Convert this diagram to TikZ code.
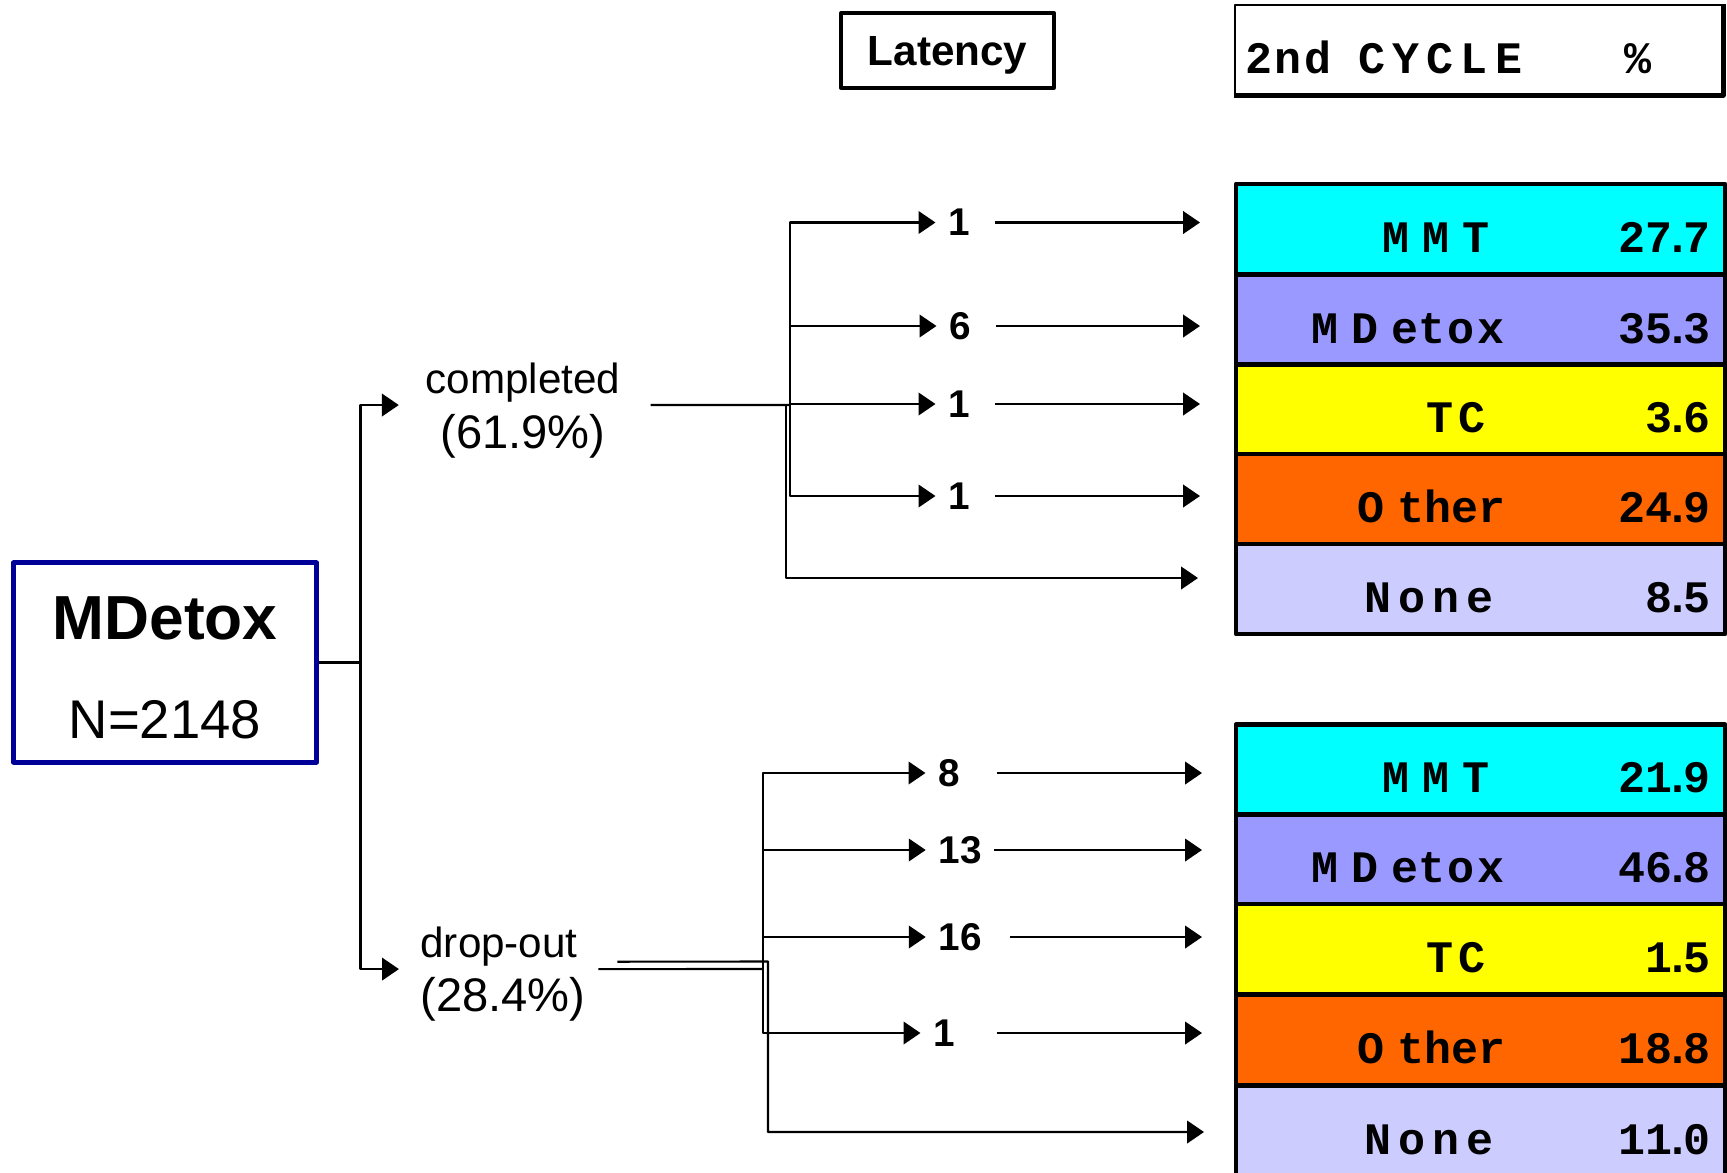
\documentclass[tikz,border=0pt]{standalone}
\usepackage{fontspec}
\setmainfont{Liberation Sans}
\newfontfamily\tabfont{Liberation Mono}
\usetikzlibrary{arrows.meta,calc}
\definecolor{navybox}{RGB}{0,0,153}
\definecolor{mmtcol}{RGB}{0,255,255}
\definecolor{mdxcol}{RGB}{153,153,255}
\definecolor{tccol}{RGB}{255,255,0}
\definecolor{othcol}{RGB}{255,102,0}
\definecolor{nonecol}{RGB}{204,204,255}
\newcommand{\trk}[1]{\addfontfeature{LetterSpace=#1}}
\newcommand{\numdot}{\kern-2.3pt.\kern-2.3pt}
\tikzset{
  rootbox/.style={draw=navybox,line width=1.4pt,minimum width=3.03cm,minimum height=1.99cm},
  tagbox/.style={draw,line width=0.9pt,minimum width=2.13cm,minimum height=0.75cm,text depth=0pt,font=\bfseries\fontsize{12}{14}\selectfont},
  hdrbox/.style={draw,line width=0.7pt,minimum width=4.87cm,minimum height=0.89cm},
  rowbox/.style={draw,line width=1.2pt,minimum width=4.89cm,minimum height=0.9cm},
  rowlab/.style={inner sep=0pt,anchor=base west,font=\tabfont\bfseries\fontsize{12.8}{14}\selectfont},
  rowval/.style={inner sep=0pt,anchor=base east,font=\tabfont\bfseries\fontsize{12.8}{14}\selectfont},
  armlab/.style={font=\fontsize{12}{15.6}\selectfont},
  numlab/.style={font=\bfseries\fontsize{11}{13}\selectfont},
}
\begin{document}
\begin{tikzpicture}[x=0.01cm,y=-0.01cm,line join=round,semithick,>={Triangle[length=4.8pt,width=6.4pt]}]
\useasboundingbox (0,0) rectangle (1727,1172);
% headings
\node[tagbox] (lat) at (947.5,50.5) {Latency};
\node[hdrbox] (hdr) at (1478.5,49.5) {};
\draw[line width=1.3pt] (hdr.south west) -- (hdr.south east) -- (hdr.north east);
\node[inner sep=0pt,anchor=base west,font=\tabfont\bfseries\fontsize{12.8}{14}\selectfont] (hdrtxt) at ($(hdr.south west)+(11,-22)$) {{\trk{5}2nd} {\trk{16}CYCLE}\hspace{29pt}\%};
% start box
\node[rootbox] (root) at (165,662.5) {};
\node[font=\bfseries\fontsize{17.7}{20}\selectfont] (rootname) at (165,618) {MDetox};
\node[font=\fontsize{15.5}{18}\selectfont] (rootsize) at (165,720) {N=2148};
\node[armlab,align=center] (comp) at (523,411) {completed\\{\fontsize{13.4}{15.6}\selectfont(61.9\%)}};
\node[armlab,align=left] (drop) at (503,974) {drop-out\\{\fontsize{13.4}{15.6}\selectfont(28.4\%)}};
\draw[->] (root.east) -- ++(41.5,0) |- ([xshift=-4pt,yshift=1.7pt]comp.west);
\draw[->] (root.east) -- ++(41.5,0) |- ([xshift=-2.5pt,yshift=1.4pt]drop.west);
% latency counts
\node[numlab] (c1) at (959,222.5) {1};
\node[numlab] (c2) at (960,326) {6};
\node[numlab] (c3) at (959,404) {1};
\node[numlab] (c4) at (959,496) {1};
\node[numlab] (d1) at (949,773) {8};
\node[numlab] (d2) at (960,850) {13};
\node[numlab] (d3) at (960,937) {16};
\node[numlab] (d4) at (944,1033) {1};
\coordinate (cfork) at (790,405);
\coordinate (cnone) at (1198,578);
\coordinate (cend) at (1200,0);
\coordinate (dfork) at (763,969);
\coordinate (dfork2) at (768,961.5);
\coordinate (dnone) at (1204,1132);
\coordinate (dend) at (1202,0);
\draw ([xshift=5pt,yshift=1.7pt]comp.east) -- (cfork);
\foreach \n in {c1,c2,c3,c4}{
  \draw[->] (cfork) |- (\n);
  \draw[->,shorten <=3.5pt] (\n.east) -- (\n.east -| cend);
}
\draw[->] ([xshift=-1.1pt]cfork) |- (cnone);
\draw ([yshift=1.4pt]drop.east) -- (dfork);
\foreach \n/\s in {d1/6.9pt,d2/0pt,d3/4.6pt,d4/8.3pt}{
  \draw[->] (dfork) |- (\n);
  \draw[->,shorten <=\s] (\n.east) -- (\n.east -| dend);
}
\draw[->] ([xshift=5.4pt,yshift=3.5pt]drop.east) -- (dfork2) |- (dnone);
% second cycle tables
\foreach \y/\lx/\lab/\val/\col [count=\i] in {229/1381/{\trk{29}MMT}/27\numdot7/mmtcol,320/1310/{\trk{29}MDe\trk{6}tox}/35\numdot3/mdxcol,409.5/1425/{\trk{13}TC}/3\numdot6/tccol,499/1356/{\trk{30}Ot\trk{0}her}/24\numdot9/othcol,589/1363/{\trk{16}None}/8\numdot5/nonecol}{
  \node[rowbox,fill=\col] (ta\i) at (1480.5,\y) {};
  \node[rowlab] (ta\i lab) at (\lx,\y+23) {\lab};
  \node[rowval] (ta\i val) at ($(ta\i.center)+(231,23)$) {\val};
}
\foreach \y/\lx/\lab/\val/\col [count=\i] in {769.5/1381/{\trk{29}MMT}/21\numdot9/mmtcol,859.5/1310/{\trk{29}MDe\trk{6}tox}/46\numdot8/mdxcol,949/1425/{\trk{13}TC}/1\numdot5/tccol,1040/1356/{\trk{30}Ot\trk{0}her}/18\numdot8/othcol,1131/1363/{\trk{16}None}/11\numdot0/nonecol}{
  \node[rowbox,fill=\col] (tb\i) at (1480.5,\y) {};
  \node[rowlab] (tb\i lab) at (\lx,\y+23) {\lab};
  \node[rowval] (tb\i val) at ($(tb\i.center)+(231,23)$) {\val};
}
\end{tikzpicture}
\end{document}
